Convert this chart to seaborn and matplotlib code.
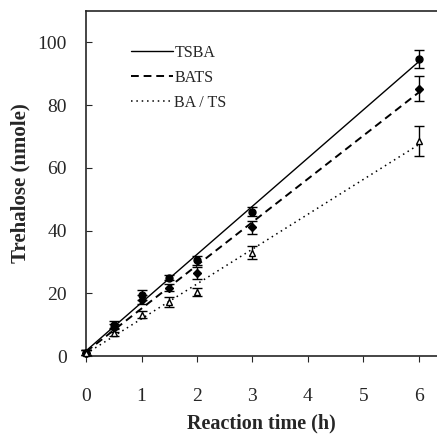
import numpy as np
import pandas as pd
import matplotlib
matplotlib.use("Agg")
import matplotlib.pyplot as plt
import seaborn as sns

# Datos
time_h = [0, 0.5, 1, 1.5, 2, 3, 6]
tsba = [1.0, 10.0, 19.5, 25.0, 30.5, 46.0, 94.8]
tsba_err = [0.8, 1.2, 1.5, 0.8, 1.5, 1.5, 2.9]
bats = [1.0, 9.0, 18.0, 21.8, 26.5, 41.0, 85.2]
bats_err = [0.8, 1.2, 1.5, 1.2, 1.8, 2.0, 4.0]
bats_ts = [1.0, 7.5, 13.2, 17.2, 20.5, 33.0, 68.5]
bats_ts_err = [0.8, 1.0, 1.2, 1.5, 1.2, 2.2, 4.7]

series = ["TSBA", "BATS", "BA / TS"]
values = [tsba, bats, bats_ts]
errors = [tsba_err, bats_err, bats_ts_err]

sns.set_style("ticks")
plt.rcParams['font.family'] = ['Liberation Serif', 'DejaVu Serif']

fig = plt.figure(figsize=(4.37, 4.38), dpi=100)
ax = fig.add_axes([0.197, 0.187, 0.803, 0.788])

estilos = ['-', (0, (4, 2.5)), (0, (1, 2.5))]
marcadores = ['o', 'D', '^']
rellenos = ['black', 'black', 'white']
tamanos = [5, 4.5, 5]
grosores = [1.0, 1.4, 1.1]

for nombre, y, e, ls, mk, fc, ms, lw in zip(series, values, errors, estilos, marcadores, rellenos, tamanos, grosores):
    df = pd.DataFrame({"t": time_h, "y": y})
    # linea de ajuste lineal
    sns.regplot(data=df, x="t", y="y", scatter=False, ci=None, truncate=True, ax=ax,
                line_kws=dict(color='black', linestyle=ls, linewidth=lw),
                label=nombre)
    ax.errorbar(time_h, y, yerr=e, fmt='none', ecolor='black', elinewidth=1.0,
                capsize=3.5, capthick=1.0, clip_on=False, zorder=3)
    ax.plot(time_h, y, linestyle='none', marker=mk, markersize=ms, markerfacecolor=fc,
            markeredgecolor='black', markeredgewidth=1.0, clip_on=False, zorder=4)

ax.set_xlim(0, 6.33)
ax.set_ylim(0, 110)
ax.set_xticks(range(0, 7))
ax.set_yticks(range(0, 101, 20))
ax.tick_params(axis='x', direction='out', length=4, width=0.8, pad=19, labelsize=14)
ax.tick_params(axis='y', direction='in', length=4, width=0.8, pad=14, labelsize=14)

ax.spines['right'].set_visible(False)
for s in ['left', 'bottom', 'top']:
    ax.spines[s].set_linewidth(1.2)

ax.set_xlabel("Reaction time (h)", fontsize=14.5, fontweight='bold', labelpad=6)
ax.set_ylabel("Trehalose (nmole)", fontsize=15, fontweight='bold', labelpad=5)

ax.legend(loc='upper left', bbox_to_anchor=(0.11, 0.92), frameon=False, fontsize=11.5,
          handlelength=2.6, handletextpad=0.1, labelspacing=0.55, borderaxespad=0)

fig.savefig("out.png", dpi=100)
